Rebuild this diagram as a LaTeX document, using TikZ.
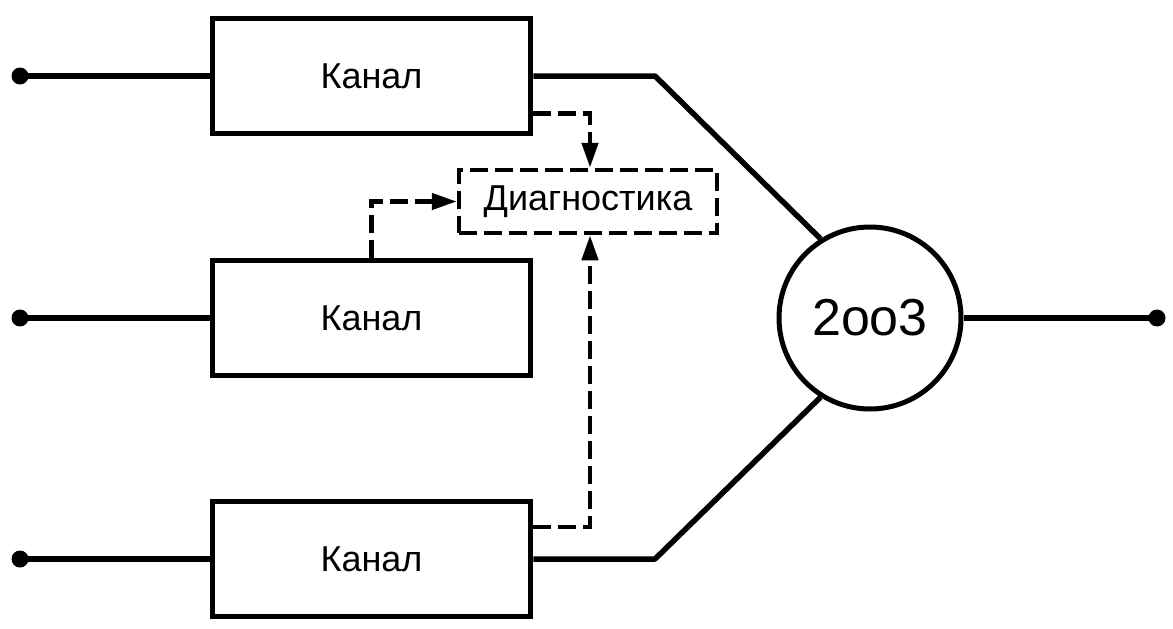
\documentclass[tikz,border=0pt]{standalone}
\usepackage{fontspec}
\setmainfont{Liberation Sans}
\usetikzlibrary{arrows.meta,calc}
\begin{document}
\begin{tikzpicture}[x=1pt,y=-1pt,
  chanbox/.style={draw,line width=5.5pt,minimum width=318pt,minimum height=115pt,inner sep=0pt,font=\fontsize{36}{40}\selectfont},
  diagbox/.style={draw,line width=4.5pt,dash pattern=on 18pt off 7pt,minimum width=258pt,minimum height=63pt,inner sep=0pt,font=\fontsize{36}{40}\selectfont},
  votenode/.style={draw,circle,line width=5pt,minimum size=182pt,inner sep=0pt,font=\fontsize{52}{56}\selectfont},
  wire/.style={line width=5.5pt},
  dwire/.style={line width=4.5pt,dash pattern=on 18pt off 7pt,-{Triangle[length=25pt,width=16pt]}},
  term/.style={circle,fill,inner sep=0pt,minimum size=17pt}]
\useasboundingbox (0,0) rectangle (1173,629);
\node[chanbox] (k1) at (371.5,76) {Канал};
\node[chanbox] (k2) at (371.5,318) {Канал};
\node[chanbox] (k3) at (371.5,559) {Канал};
\node[diagbox] (diag) at (588,201.5) {Диагностика};
\node[votenode] (v) at (870,318) {2oo3};
\node[term] (i1) at (20,76) {};
\node[term] (i2) at (20,318) {};
\node[term] (i3) at (20,559) {};
\node[term] (o) at (1157,318) {};
\coordinate (b1) at (655,76);
\coordinate (b3) at (655,559);
\draw[wire] (i1.center) -- (k1.west);
\draw[wire] (i2.center) -- (k2.west);
\draw[wire] (i3.center) -- (k3.west);
\draw[wire,line join=round] (k1.east) -- (b1) -- (v.122);
\draw[wire,line join=round] (k3.east) -- (b3) -- (v.238);
\draw[wire] (v.east) -- (o.center);
\draw[dwire] ([yshift=23pt]k1.south east) -| ([xshift=2pt]diag.north);
\draw[dwire] (k2.north) |- (diag.west);
\draw[dwire] ([yshift=-28pt]k3.north east) -| ([xshift=2pt]diag.south);
\end{tikzpicture}
\end{document}
